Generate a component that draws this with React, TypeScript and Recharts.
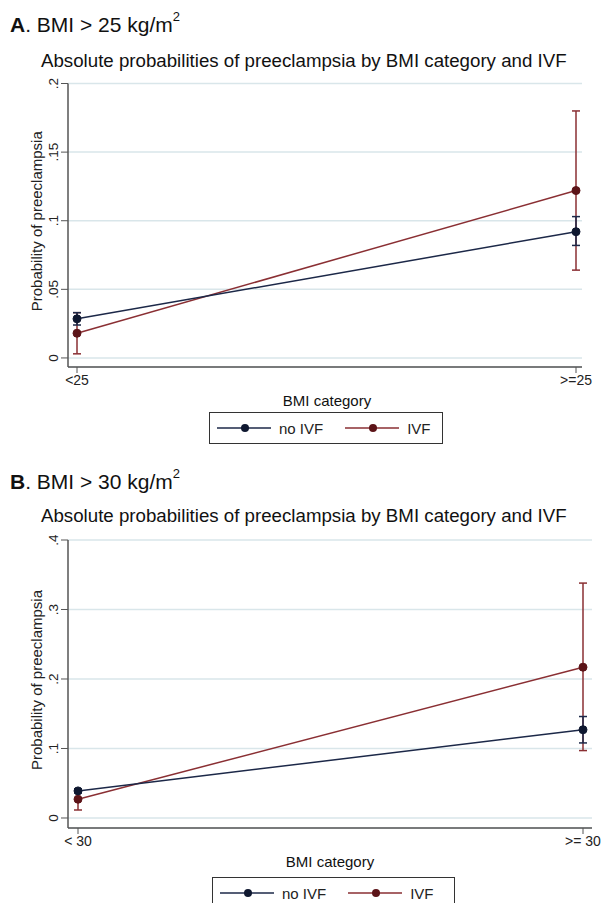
import React from 'react';
import { LineChart, Line, XAxis, YAxis, CartesianGrid, ErrorBar } from 'recharts';

// Panel A: BMI > 25
const catsA = ['<25', '>=25'];
const noIvfA = [0.0285, 0.092];
const noIvfLoA = [0.024, 0.082];
const noIvfHiA = [0.033, 0.103];
const ivfA = [0.018, 0.122];
const ivfLoA = [0.003, 0.064];
const ivfHiA = [0.033, 0.18];
const ticksA = [0, 0.05, 0.1, 0.15, 0.2];
const tickLabelsA = ['0', '.05', '.1', '.15', '.2'];

// Panel B: BMI > 30
const catsB = ['< 30', '>= 30'];
const noIvfB = [0.039, 0.127];
const noIvfLoB = [0.036, 0.108];
const noIvfHiB = [0.042, 0.146];
const ivfB = [0.027, 0.217];
const ivfLoB = [0.0115, 0.097];
const ivfHiB = [0.04, 0.338];
const ticksB = [0, 0.1, 0.2, 0.3, 0.4];
const tickLabelsB = ['0', '.1', '.2', '.3', '.4'];

const NAVY = '#1c2848';
const NAVY_DOT = '#0f1830';
const MAROON = '#8a2f33';
const MAROON_DOT = '#5c1418';
const AXIS = '#555';
const GRID = '#d9e6ea';
const FONT = '"Liberation Sans", Arial, Helvetica, sans-serif';

const buildRows = (
  cats: string[],
  no: number[],
  noLo: number[],
  noHi: number[],
  iv: number[],
  ivLo: number[],
  ivHi: number[],
) =>
  cats.map((cat, i) => ({
    cat,
    noIvf: no[i],
    noIvfErr: [no[i] - noLo[i], noHi[i] - no[i]],
    ivf: iv[i],
    ivfErr: [iv[i] - ivLo[i], ivHi[i] - iv[i]],
  }));

const dataA = buildRows(catsA, noIvfA, noIvfLoA, noIvfHiA, ivfA, ivfLoA, ivfHiA);
const dataB = buildRows(catsB, noIvfB, noIvfLoB, noIvfHiB, ivfB, ivfLoB, ivfHiB);

interface PanelProps {
  data: any[];
  ticks: number[];
  tickLabels: string[];
  domain: [number, number];
  top: number;
  plotTop: number;
  plotHeight: number;
  right: number;
  padding: { left: number; right: number };
}

const Panel: React.FC<PanelProps> = ({ data, ticks, tickLabels, domain, top, plotTop, plotHeight, right, padding }) => {
  const yTick = (props: any) => {
    const { x, y, payload } = props;
    const idx = ticks.indexOf(payload.value);
    return (
      <text
        x={x}
        y={y}
        transform={`rotate(-90 ${x} ${y})`}
        textAnchor="middle"
        fontSize={13.5}
        fontFamily={FONT}
        fill="#222"
      >
        {idx >= 0 ? tickLabels[idx] : payload.value}
      </text>
    );
  };
  const labelY = plotTop + plotHeight / 2 - 4;
  return (
    <div style={{ position: 'absolute', left: 0, top, width: 601 }}>
      <LineChart
        width={601}
        height={plotTop + plotHeight + 26}
        data={data}
        margin={{ top: plotTop, right, left: 20, bottom: 0 }}
      >
        <CartesianGrid vertical={false} stroke={GRID} strokeWidth={1.5} />
        <XAxis
          dataKey="cat"
          padding={padding}
          axisLine={{ stroke: AXIS, strokeWidth: 1.5 }}
          tickLine={{ stroke: AXIS }}
          tickSize={6}
          tick={{ fontSize: 14, fontFamily: FONT, fill: '#222' }}
          height={26}
        />
        <YAxis
          type="number"
          domain={domain}
          ticks={ticks}
          allowDataOverflow
          width={48}
          axisLine={{ stroke: AXIS, strokeWidth: 1.5 }}
          tickLine={{ stroke: AXIS }}
          tickSize={7}
          tickMargin={3}
          tick={yTick}
          label={{
            content: () => (
              <text
                x={42}
                y={labelY}
                transform={`rotate(-90 42 ${labelY})`}
                textAnchor="middle"
                fontSize={15}
                fontFamily={FONT}
                fill="#222"
              >
                Probability of preeclampsia
              </text>
            ),
          }}
        />
        <Line
          dataKey="ivf"
          stroke={MAROON}
          strokeWidth={1.5}
          dot={{ r: 4, fill: MAROON_DOT, stroke: MAROON_DOT, strokeWidth: 1 }}
          isAnimationActive={false}
        >
          <ErrorBar dataKey="ivfErr" direction="y" width={4} stroke={MAROON} strokeWidth={1.5} isAnimationActive={false} />
        </Line>
        <Line
          dataKey="noIvf"
          stroke={NAVY}
          strokeWidth={1.5}
          dot={{ r: 4, fill: NAVY_DOT, stroke: NAVY_DOT, strokeWidth: 1 }}
          isAnimationActive={false}
        >
          <ErrorBar dataKey="noIvfErr" direction="y" width={4} stroke={NAVY} strokeWidth={1.5} isAnimationActive={false} />
        </Line>
      </LineChart>
    </div>
  );
};

const LegendIcon: React.FC<{ line: string; dot: string }> = ({ line, dot }) => (
  <svg width={54} height={12} style={{ display: 'block' }}>
    <line x1={0} y1={6} x2={54} y2={6} stroke={line} strokeWidth={1.5} />
    <circle cx={28} cy={6} r={4} fill={dot} />
  </svg>
);

const LegendBox: React.FC<{ left: number; top: number; width: number }> = ({ left, top, width }) => (
  <div
    style={{
      position: 'absolute',
      left,
      top,
      width,
      height: 32,
      boxSizing: 'border-box',
      border: '1px solid #333',
      display: 'flex',
      alignItems: 'center',
      paddingLeft: 7,
      fontSize: 15,
      color: '#222',
    }}
  >
    <LegendIcon line={NAVY} dot={NAVY_DOT} />
    <span style={{ marginLeft: 8 }}>no IVF</span>
    <span style={{ marginLeft: 22 }}>
      <LegendIcon line={MAROON} dot={MAROON_DOT} />
    </span>
    <span style={{ marginLeft: 8 }}>IVF</span>
  </div>
);

const Heading: React.FC<{ letter: string; bmi: string; top: number }> = ({ letter, bmi, top }) => (
  <div style={{ position: 'absolute', left: 10, top, fontSize: 21, lineHeight: 1, whiteSpace: 'nowrap' }}>
    <b>{letter}</b>. BMI &gt; {bmi} kg/m<sup style={{ fontSize: 13, verticalAlign: 'top', position: 'relative', top: -4 }}>2</sup>
  </div>
);

const Title: React.FC<{ top: number }> = ({ top }) => (
  <div style={{ position: 'absolute', left: 41, top, fontSize: 18.7, lineHeight: 1, whiteSpace: 'nowrap' }}>
    Absolute probabilities of preeclampsia by BMI category and IVF
  </div>
);

const AxisTitle: React.FC<{ top: number; center: number }> = ({ top, center }) => (
  <div style={{ position: 'absolute', left: center - 100, width: 200, top, fontSize: 15, lineHeight: 1, textAlign: 'center' }}>
    BMI category
  </div>
);

export default function App() {
  return (
    <div
      style={{
        position: 'absolute',
        left: 0,
        top: 0,
        width: 601,
        height: 903,
        overflow: 'hidden',
        background: '#fff',
        fontFamily: FONT,
        color: '#111',
      }}
    >
      <Panel
        data={dataA}
        ticks={ticksA}
        tickLabels={tickLabelsA}
        domain={[-0.0066, 0.2]}
        top={70}
        plotTop={13.5}
        plotHeight={283.5}
        right={19}
        padding={{ left: 9, right: 6 }}
      />
      <Heading letter="A" bmi="25" top={14} />
      <Title top={52} />
      <AxisTitle top={393} center={327} />
      <LegendBox left={209} top={412} width={234} />

      <Panel
        data={dataB}
        ticks={ticksB}
        tickLabels={tickLabelsB}
        domain={[-0.0144, 0.4]}
        top={530}
        plotTop={10}
        plotHeight={288}
        right={9}
        padding={{ left: 10, right: 9 }}
      />
      <Heading letter="B" bmi="30" top={471} />
      <Title top={507} />
      <AxisTitle top={854} center={330} />
      <LegendBox left={212} top={877} width={243} />
    </div>
  );
}
